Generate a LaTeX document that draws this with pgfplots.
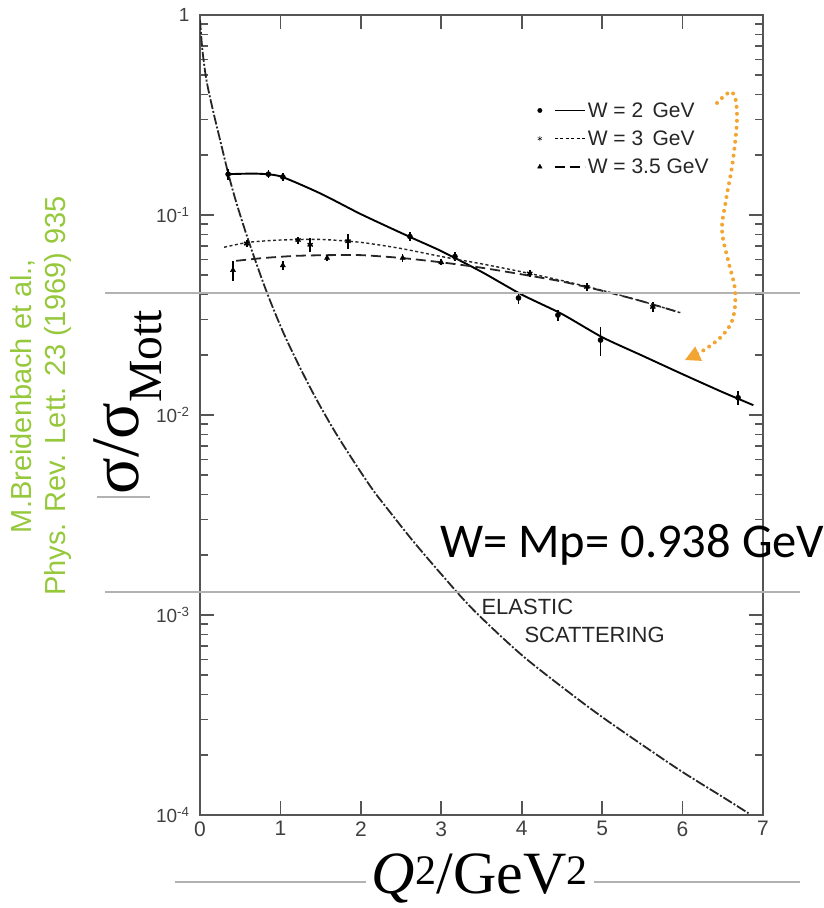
\documentclass[border=0pt]{standalone}
\usepackage{fontspec}
\usepackage{pgfplots}
\usepackage{pgfplotstable}
\pgfplotsset{compat=1.18}
\usetikzlibrary{arrows.meta}
\setmainfont{Liberation Serif}
\newfontfamily\arial{Liberation Sans}
\newfontfamily\calibri{Carlito}
\definecolor{refgreen}{RGB}{150,200,60}
\definecolor{arroworange}{RGB}{242,165,50}
\definecolor{slidegray}{RGB}{178,178,178}
\definecolor{framegray}{RGB}{85,85,85}

% measured points: Q^2, sigma/sigma_Mott, error
\pgfplotstableread{
q s e
0.35 0.160 0.010
0.85 0.160 0.007
1.03 0.155 0.007
2.61 0.078 0.004
3.17 0.062 0.003
3.96 0.0385 0.0025
4.45 0.0316 0.002
4.98 0.0237 0.004
6.69 0.0122 0.001
}\wtwo
\pgfplotstableread{
q s e
0.58 0.072 0.003
1.22 0.075 0.003
1.37 0.071 0.006
1.84 0.074 0.006
4.10 0.051 0.002
4.81 0.0437 0.002
5.63 0.0347 0.002
}\wthree
\pgfplotstableread{
q s e
0.41 0.053 0.006
1.03 0.056 0.003
1.58 0.061 0.002
2.52 0.061 0.003
3.00 0.058 0.002
}\wthreefive

\begin{document}
\begin{tikzpicture}[x=1pt,y=1pt]
\useasboundingbox (0pt,0pt) rectangle (823pt,908pt);
\begin{axis}[
  at={(200pt,93pt)}, anchor=south west,
  scale only axis, width=563pt, height=800pt,
  xmin=0, xmax=7, ymode=log, ymin=1e-4, ymax=1,
  xtick={0,1,...,7},
  ytick={1e-4,1e-3,1e-2,1e-1,1},
  yticklabels={10\textsuperscript{-4},10\textsuperscript{-3},10\textsuperscript{-2},10\textsuperscript{-1},1},
  minor ytick={2e-4,3e-4,4e-4,5e-4,6e-4,7e-4,8e-4,9e-4,
               2e-3,3e-3,4e-3,5e-3,6e-3,7e-3,8e-3,9e-3,
               2e-2,3e-2,4e-2,5e-2,6e-2,7e-2,8e-2,9e-2,
               0.2,0.3,0.4,0.5,0.6,0.7,0.8,0.9},
  /pgf/number format/assume math mode=true,
  tick align=inside,
  major tick length=14pt, minor tick length=8pt,
  axis line style={framegray, line width=1.8pt},
  every tick/.style={framegray, line width=1.6pt},
  xticklabel style={font=\arial\fontsize{21}{21}\selectfont, text=black!75, yshift=-3pt},
  yticklabel style={font=\arial\fontsize{19}{19}\selectfont, text=black!75, xshift=-7pt},
  legend style={at={(rel axis cs:0.594,0.896)}, anchor=north west, draw=none, fill=none,
    font=\arial\fontsize{21}{24}\selectfont, row sep=8pt, text=black!85},
  legend cell align=left,
]
% legend entries: marker followed by the line style of each series
\addlegendimage{legend image code/.code={
  \draw[black, only marks, mark=*, mark size=2.2pt] plot coordinates {(0pt,0pt)};
  \draw[black, line width=1.8pt] (15pt,0pt) -- (45pt,0pt);}}
\addlegendentry{W = 2\, GeV}
\addlegendimage{legend image code/.code={
  \draw[black, only marks, mark=asterisk, mark size=2.5pt] plot coordinates {(0pt,0pt)};
  \draw[black, line width=1.3pt, dash pattern=on 3pt off 2.5pt] (15pt,0pt) -- (45pt,0pt);}}
\addlegendentry{W = 3\, GeV}
\addlegendimage{legend image code/.code={
  \draw[black, only marks, mark=triangle*, mark size=2.6pt] plot coordinates {(0pt,0pt)};
  \draw[black, line width=1.8pt, dash pattern=on 10pt off 5pt] (15pt,0pt) -- (45pt,0pt);}}
\addlegendentry{W = 3.5 GeV}

% elastic scattering
\addplot[black!85, line width=1.8pt, smooth, tension=0.5,
  dash pattern=on 10pt off 2pt on 2pt off 2pt] coordinates {
  (0.00,0.944) (0.03,0.668) (0.08,0.473) (0.16,0.335) (0.25,0.237)
  (0.35,0.162) (0.45,0.116) (0.60,0.0750) (0.81,0.0432) (1.00,0.0279)
  (1.16,0.0202) (1.40,0.0130) (1.65,0.00861) (1.90,0.00596) (2.15,0.00422)
  (2.40,0.00313) (2.65,0.00234) (3.00,0.00160) (3.40,0.00106) (4.00,0.000631)
  (4.60,0.000407) (5.00,0.000309) (5.50,0.000224) (6.00,0.000164)
  (6.50,0.000123) (6.82,0.000102)};

% W = 2 GeV
\addplot[black, line width=1.9pt, smooth, tension=0.4] coordinates {
  (0.35,0.160) (0.7,0.161) (1.0,0.156) (1.5,0.128) (2.0,0.101) (2.6,0.078)
  (3.0,0.066) (3.5,0.052) (4.0,0.040) (4.5,0.032) (5.0,0.0245) (5.5,0.0198)
  (6.0,0.0160) (6.5,0.0130) (6.88,0.0112)};
\addplot[black, only marks, mark=*, mark size=2.6pt,
  error bars/.cd, y dir=both, y explicit, error mark=none,
  error bar style={line width=1.6pt}]
  table[x=q, y=s, y error=e] {\wtwo};

% W = 3 GeV
\addplot[black!85, line width=1.4pt, smooth, tension=0.4, dash pattern=on 3pt off 2.5pt] coordinates {
  (0.3,0.069) (0.6,0.073) (1.0,0.075) (1.5,0.0755) (2.0,0.073) (2.5,0.068)
  (3.0,0.062) (3.5,0.057) (4.0,0.052) (4.5,0.047) (5.0,0.042) (5.5,0.037) (5.97,0.0325)};
\addplot[black, only marks, mark=asterisk, mark size=3pt, mark options={line width=1.4pt},
  error bars/.cd, y dir=both, y explicit, error mark=none,
  error bar style={line width=1.8pt}]
  table[x=q, y=s, y error=e] {\wthree};

% W = 3.5 GeV
\addplot[black!85, line width=1.8pt, smooth, tension=0.4, dash pattern=on 10pt off 5pt] coordinates {
  (0.45,0.059) (0.8,0.061) (1.2,0.0625) (1.6,0.063) (2.0,0.063) (2.5,0.061)
  (3.0,0.058) (3.5,0.0545) (4.0,0.0505) (4.5,0.0465) (5.0,0.0418) (5.5,0.037) (5.97,0.0325)};
\addplot[black, only marks, mark=triangle*, mark size=3pt,
  error bars/.cd, y dir=both, y explicit, error mark=none,
  error bar style={line width=1.6pt}]
  table[x=q, y=s, y error=e] {\wthreefive};
\end{axis}

% axis titles
\node[rotate=90, anchor=center, font=\fontsize{68}{68}\selectfont] at (128pt,506pt)
  {σ/σ\textsubscript{Mott}};
\node[anchor=base, font=\fontsize{60}{60}\selectfont] at (480pt,14pt)
  {\textit{Q}\textsuperscript{2}/GeV\textsuperscript{2}};

% annotations
\node[anchor=base west, font=\arial\fontsize{22}{22}\selectfont, text=black!85] at (478pt,293pt) {ELASTIC};
\node[anchor=base west, font=\arial\fontsize{22}{22}\selectfont, text=black!85] at (521pt,265pt) {SCATTERING};
\node[anchor=base west, inner sep=0pt, font=\calibri\fontsize{48.5}{48.5}\selectfont] at (440pt,350pt)
  {W= Mp= 0.938 GeV};

% reference note
\node[rotate=90, anchor=center, align=center, text=refgreen,
  font=\arial\fontsize{29}{34}\selectfont] at (41pt,512pt)
  {M.Breidenbach et al.,\\ Phys. Rev. Lett. 23 (1969) 935};

% slide rules
\draw[slidegray, line width=1.5pt] (105pt,615pt) -- (800pt,615pt);
\draw[slidegray, line width=1.5pt] (105pt,316pt) -- (800pt,316pt);
\draw[slidegray, line width=1.5pt] (97pt,411pt) -- (150pt,411pt);
\draw[slidegray, line width=1.5pt] (175pt,26pt) -- (366pt,26pt);
\draw[slidegray, line width=1.5pt] (594pt,26pt) -- (800pt,26pt);

% pointer
\draw[arroworange, line width=4pt, line cap=round, dash pattern=on 0pt off 7pt,
  -{Triangle[length=15pt, width=16pt, line width=0pt, fill=arroworange]}]
  plot[smooth, tension=0.6] coordinates {
  (717pt,805pt) (732pt,816pt) (737pt,793pt) (733pt,748pt) (726pt,708pt) (722pt,678pt) (728pt,648pt)
  (735pt,618pt) (733pt,590pt) (722pt,572pt) (704pt,558pt) (685pt,548pt)};
\end{tikzpicture}
\end{document}
